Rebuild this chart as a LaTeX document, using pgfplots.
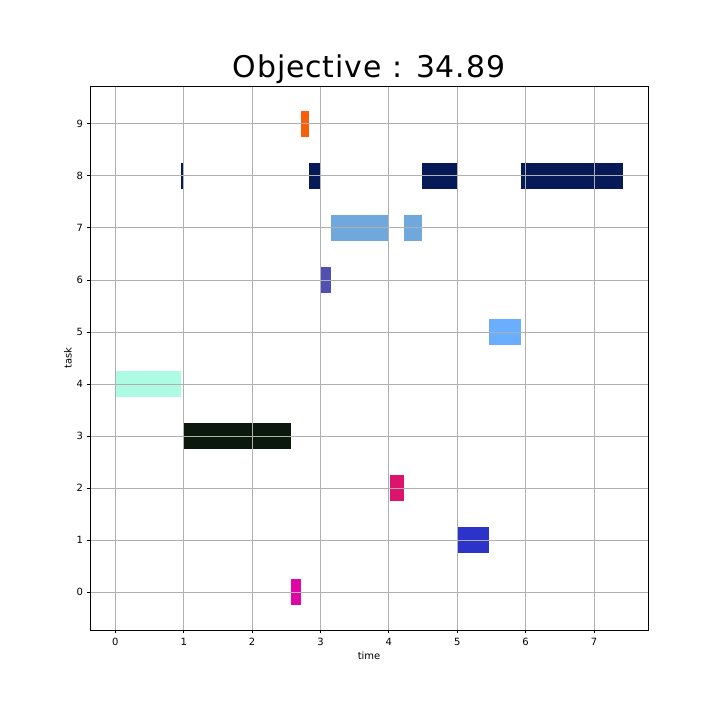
\documentclass[border=0pt]{standalone}
\usepackage{pgfplots}
\pgfplotsset{compat=1.18}
\usepackage{fontspec}
\setmainfont{DejaVu Sans}
\definecolor{c0}{HTML}{E005A5}
\definecolor{c1}{HTML}{2B33C8}
\definecolor{c2}{HTML}{DC146E}
\definecolor{c3}{HTML}{0A190C}
\definecolor{c4}{HTML}{ADFBE3}
\definecolor{c5}{HTML}{6AAEFF}
\definecolor{c6}{HTML}{5050B0}
\definecolor{c7}{HTML}{6FA8DC}
\definecolor{c8}{HTML}{061A57}
\definecolor{c9}{HTML}{F95E0B}
\definecolor{gridc}{HTML}{B0B0B0}
\begin{document}
\begin{tikzpicture}[x=1bp,y=1bp]
\path[fill=white] (0,0) rectangle (720,720);
\begin{axis}[
  at={(90bp,90bp)}, anchor=south west,
  scale only axis, width=558bp, height=544bp,
  xmin=-0.371, xmax=7.791, ymin=-0.725, ymax=9.725,
  xtick={0,1,2,3,4,5,6,7}, ytick={0,1,2,3,4,5,6,7,8,9},
  grid=major, grid style={gridc, line width=0.8bp},
  axis on top,
  axis line style={black, line width=0.8bp},
  tick style={black, line width=0.8bp},
  tick align=outside, major tick length=3.5bp,
  xtick pos=bottom, ytick pos=left,
  /pgf/number format/assume math mode=true,
  ticklabel style={font=\fontsize{10}{12}\selectfont},
  xticklabel style={yshift=-1.5bp},
  xlabel={time}, ylabel={task},
  label style={font=\fontsize{10}{12}\selectfont},
  xlabel style={yshift=0.5bp},
  ylabel style={yshift=-2bp},
  every axis title shift=0pt,
  title={\addfontfeature{LetterSpace=3}Objective : 34.89},
  title style={font=\fontsize{30}{36}\selectfont, at={(0.5,1)}, anchor=base, yshift=8.7bp, inner sep=0pt},
]
% task 0
\addplot[fill=c0, draw=none] coordinates {(2.57,-0.25) (2.71,-0.25) (2.71,0.25) (2.57,0.25)} -- cycle;
% task 1
\addplot[fill=c1, draw=none] coordinates {(5.00,0.75) (5.46,0.75) (5.46,1.25) (5.00,1.25)} -- cycle;
% task 2
\addplot[fill=c2, draw=none] coordinates {(4.01,1.75) (4.22,1.75) (4.22,2.25) (4.01,2.25)} -- cycle;
% task 3
\addplot[fill=c3, draw=none] coordinates {(1.01,2.75) (2.57,2.75) (2.57,3.25) (1.01,3.25)} -- cycle;
% task 4
\addplot[fill=c4, draw=none] coordinates {(0.00,3.75) (0.96,3.75) (0.96,4.25) (0.00,4.25)} -- cycle;
% task 5
\addplot[fill=c5, draw=none] coordinates {(5.46,4.75) (5.93,4.75) (5.93,5.25) (5.46,5.25)} -- cycle;
% task 6
\addplot[fill=c6, draw=none] coordinates {(3.00,5.75) (3.15,5.75) (3.15,6.25) (3.00,6.25)} -- cycle;
% task 7
\addplot[fill=c7, draw=none] coordinates {(3.15,6.75) (4.00,6.75) (4.00,7.25) (3.15,7.25)} -- cycle;
\addplot[fill=c7, draw=none] coordinates {(4.22,6.75) (4.48,6.75) (4.48,7.25) (4.22,7.25)} -- cycle;
% task 8
\addplot[fill=c8, draw=none] coordinates {(0.96,7.75) (1.00,7.75) (1.00,8.25) (0.96,8.25)} -- cycle;
\addplot[fill=c8, draw=none] coordinates {(2.83,7.75) (2.99,7.75) (2.99,8.25) (2.83,8.25)} -- cycle;
\addplot[fill=c8, draw=none] coordinates {(4.48,7.75) (5.00,7.75) (5.00,8.25) (4.48,8.25)} -- cycle;
\addplot[fill=c8, draw=none] coordinates {(5.93,7.75) (7.42,7.75) (7.42,8.25) (5.93,8.25)} -- cycle;
% task 9
\addplot[fill=c9, draw=none] coordinates {(2.71,8.75) (2.83,8.75) (2.83,9.25) (2.71,9.25)} -- cycle;
\end{axis}
\end{tikzpicture}
\end{document}
